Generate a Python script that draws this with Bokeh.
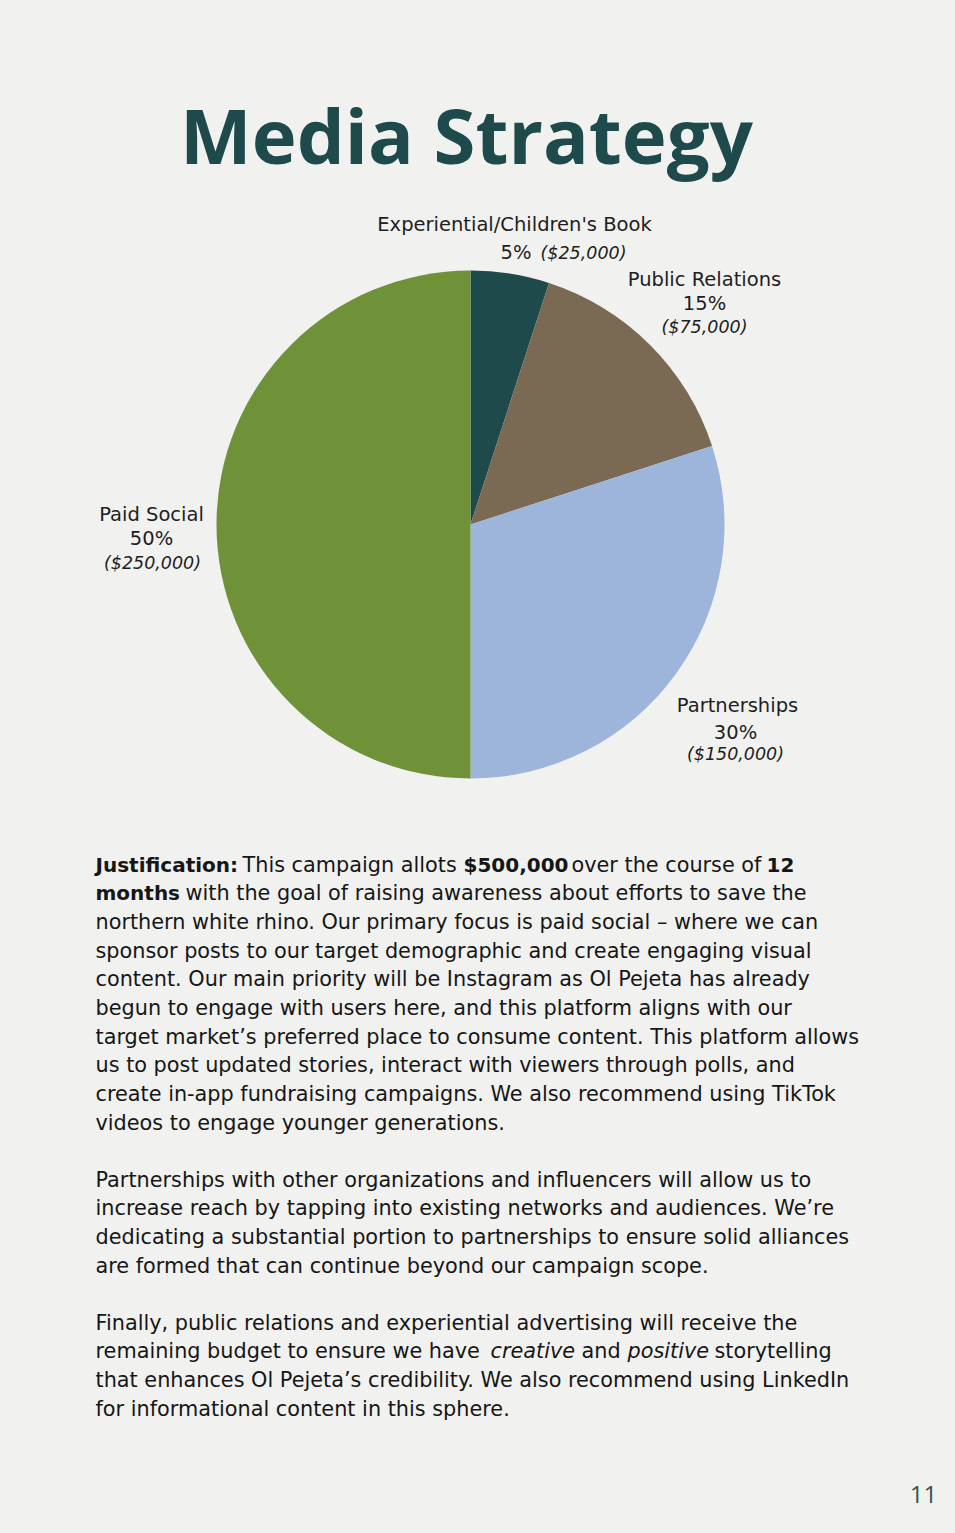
import numpy as np
from bokeh.plotting import figure
from bokeh.models import ColumnDataSource, Range1d
from bokeh.core.properties import value
from bokeh.embed import file_html
from bokeh.resources import INLINE

# ---------------- data ----------------
categories = ["Experiential/Children's Book", "Public Relations", "Partnerships", "Paid Social"]
percents = [5, 15, 30, 50]
amounts = ["($25,000)", "($75,000)", "($150,000)", "($250,000)"]
colors = ["#1f4a4b", "#7a6a54", "#9db5db", "#6f9138"]

title_text = "Media Strategy"
page_number = "11"

para1 = [
    [("Justification:", "bold"), ("This campaign allots", "normal"), ("$500,000", "bold"),
     ("over the course of", "normal"), ("12", "bold")],
    [("months", "bold"), ("with the goal of raising awareness about efforts to save the", "normal")],
    [("northern white rhino. Our primary focus is paid social \u2013 where we can", "normal")],
    [("sponsor posts to our target demographic and create engaging visual", "normal")],
    [("content. Our main priority will be Instagram as Ol Pejeta has already", "normal")],
    [("begun to engage with users here, and this platform aligns with our", "normal")],
    [("target market\u2019s preferred place to consume content. This platform allows", "normal")],
    [("us to post updated stories, interact with viewers through polls, and", "normal")],
    [("create in-app fundraising campaigns. We also recommend using TikTok", "normal")],
    [("videos to engage younger generations.", "normal")],
]
para2 = [
    [("Partnerships with other organizations and influencers will allow us to", "normal")],
    [("increase reach by tapping into existing networks and audiences. We\u2019re", "normal")],
    [("dedicating a substantial portion to partnerships to ensure solid alliances", "normal")],
    [("are formed that can continue beyond our campaign scope.", "normal")],
]
para3 = [
    [("Finally, public relations and experiential advertising will receive the", "normal")],
    [("remaining budget to ensure we have", "normal"), ("creative", "italic"), ("and", "normal"),
     ("positive", "italic"), ("storytelling", "normal")],
    [("that enhances Ol Pejeta\u2019s credibility. We also recommend using LinkedIn", "normal")],
    [("for informational content in this sphere.", "normal")],
]

# run start positions (page px) for lines with mixed styles
run_x = {
    (0, 0): [95, 242, 463, 571, 766],
    (0, 1): [95, 185],
    (2, 1): [95, 490, 581, 627, 714],
}

# ---------------- layout ----------------
W, H = 939, 1517
BG = "#f1f1ef"
TFONT = "Open Sans"
FONT = "DejaVu Sans"


def X(px):
    return px


def Y(py):
    return H - py


p = figure(width=W, height=H, x_range=Range1d(0, W), y_range=Range1d(0, H),
           output_backend="svg", toolbar_location=None, min_border=0)
p.axis.visible = False
p.grid.visible = False
p.outline_line_color = None
p.background_fill_color = BG
p.border_fill_color = BG

# title
p.text(x=[X(466)], y=[Y(134)], text=[title_text], text_font=value(TFONT),
       text_font_style="bold", text_font_size="76px", text_color="#1f4a4b",
       text_align="center", text_baseline="middle")

# pie
frac = np.array(percents, dtype=float) / sum(percents)
cum = np.concatenate([[0], np.cumsum(frac)])
start = np.pi / 2 - cum[:-1] * 2 * np.pi
end = np.pi / 2 - cum[1:] * 2 * np.pi
src = ColumnDataSource(dict(start=start, end=end, color=colors, cat=categories))
p.wedge(x=X(470), y=Y(524), radius=254, start_angle="start", end_angle="end",
        direction="clock", fill_color="color", line_color=None, source=src)

LBL = "#1e1e1e"
lab_kw = dict(text_font=value(FONT), text_color=LBL, text_baseline="middle")
LS = "19.5px"
AS = "17.5px"

# Experiential
p.text(x=[X(514)], y=[Y(224)], text=[categories[0]], text_font_size=LS,
       text_align="center", **lab_kw)
p.text(x=[X(500)], y=[Y(252)], text=[f"{percents[0]}%"], text_font_size=LS,
       text_align="left", **lab_kw)
p.text(x=[X(540)], y=[Y(252)], text=[amounts[0]], text_font_size=AS,
       text_font_style="italic", text_align="left", **lab_kw)

# Public Relations
p.text(x=[X(704)], y=[Y(279)], text=[categories[1]], text_font_size=LS,
       text_align="center", **lab_kw)
p.text(x=[X(704)], y=[Y(303)], text=[f"{percents[1]}%"], text_font_size=LS,
       text_align="center", **lab_kw)
p.text(x=[X(704)], y=[Y(326)], text=[amounts[1]], text_font_size=AS,
       text_font_style="italic", text_align="center", **lab_kw)

# Partnerships
p.text(x=[X(737)], y=[Y(705)], text=[categories[2]], text_font_size=LS,
       text_align="center", **lab_kw)
p.text(x=[X(735)], y=[Y(732)], text=[f"{percents[2]}%"], text_font_size=LS,
       text_align="center", **lab_kw)
p.text(x=[X(735)], y=[Y(753)], text=[amounts[2]], text_font_size=AS,
       text_font_style="italic", text_align="center", **lab_kw)

# Paid Social
p.text(x=[X(151)], y=[Y(514)], text=[categories[3]], text_font_size=LS,
       text_align="center", **lab_kw)
p.text(x=[X(151)], y=[Y(538)], text=[f"{percents[3]}%"], text_font_size=LS,
       text_align="center", **lab_kw)
p.text(x=[X(152)], y=[Y(562)], text=[amounts[3]], text_font_size=AS,
       text_font_style="italic", text_align="center", **lab_kw)

# body text
BODY = "#161616"
para_top = [864, 1179, 1322]
step = 28.7
for pi_, para in enumerate([para1, para2, para3]):
    for li, runs in enumerate(para):
        yy = Y(para_top[pi_] + li * step)
        xs = run_x.get((pi_, li), [95])
        for ri, (txt, style) in enumerate(runs):
            fs = "20px" if style == "bold" else "20.8px"
            p.text(x=[X(xs[ri])], y=[yy], text=[txt], text_font=value(FONT),
                   text_font_style=style, text_font_size=fs, text_color=BODY,
                   text_align="left", text_baseline="middle")

# page number
p.text(x=[X(923)], y=[Y(1494)], text=[page_number], text_font=value(TFONT),
       text_font_size="24px", text_color="#2f5555", text_align="center",
       text_baseline="middle")

html = file_html(p, INLINE)
html = html.replace("<head>", "<head><style>body{background:#f1f1ef;}</style>", 1)
open("out.html", "w").write(html)
